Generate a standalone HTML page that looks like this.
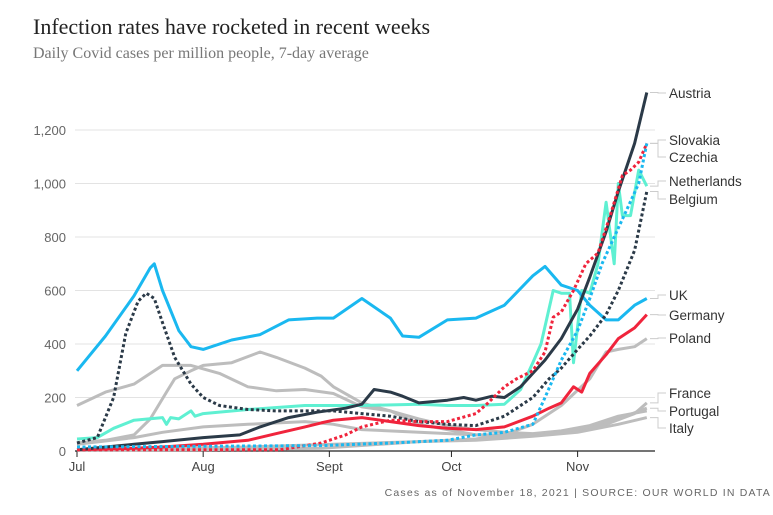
<!DOCTYPE html>
<html><head><meta charset="utf-8">
<style>
body{margin:0;background:#fff;width:773px;height:515px;overflow:hidden}
svg{display:block}
.t{font-family:"Liberation Serif",serif}
.s{font-family:"Liberation Sans",sans-serif}
</style></head>
<body>
<svg id="c" width="773" height="515">
<text class="t" x="33" y="34" font-size="22" fill="#222">Infection rates have rocketed in recent weeks</text>
<text class="t" x="33" y="58" font-size="16" fill="#777">Daily Covid cases per million people, 7-day average</text>
<text class="s" x="771" y="496" text-anchor="end" font-size="10.5" fill="#666" letter-spacing="1.2">Cases as of November 18, 2021 | SOURCE: OUR WORLD IN DATA</text>
<g id="grid"></g><g id="lines"></g><g id="labels"></g>
</svg>
<script>
const yTicks=[0,200,400,600,800,1000,1200];
const yTickLabels=["0","200","400","600","800","1,000","1,200"];
const xTickDays=[0,31,62,92,123];
const xTickLabels=["Jul","Aug","Sept","Oct","Nov"];

const g1Days=[0,7,14,21,28,35,42,49,56,63,70,77,84,91,98,105,112,119,126,133,140];
const g1Vals=[170,220,250,320,320,290,240,225,230,215,165,150,120,95,80,70,65,75,95,130,150];
const g2Days=[0,7,14,18,22,24,28,31,38,45,49,56,60,63,70,77,84,91,98,105,112,119,126,133,140];
const g2Vals=[30,40,60,120,220,270,300,320,330,370,350,310,280,240,180,150,100,80,60,55,60,70,90,120,160];
const g3Days=[0,14,21,31,42,56,63,70,84,98,112,123,130,137,140];
const g3Vals=[25,50,70,90,100,110,100,80,70,60,60,75,100,140,180];
const italyDays=[0,21,42,63,84,98,112,123,133,140];
const italyVals=[5,10,15,25,35,40,55,70,100,125];
const polandDays=[0,30,60,84,98,105,112,119,126,130,133,137,140];
const polandVals=[3,5,10,35,45,60,100,170,270,370,380,390,420];

const ukDays=[0,7,14,18,19,21,25,28,31,38,45,52,59,63,70,77,80,84,91,98,105,112,115,119,123,126,130,133,137,140];
const ukVals=[300,430,580,685,700,600,450,390,380,415,435,490,497,497,570,497,430,425,490,497,545,655,690,620,600,545,490,490,545,570];
const austriaDays=[0,14,21,31,40,45,52,59,66,70,73,77,80,84,91,95,98,102,105,109,112,115,119,123,126,130,133,137,140];
const austriaVals=[5,25,35,50,60,90,125,145,160,175,230,220,205,180,190,200,190,205,200,240,290,340,420,530,650,820,970,1150,1340];
const belgiumDays=[0,5,9,12,15,17,19,21,24,28,31,35,42,49,56,63,70,77,84,91,98,105,112,116,119,123,126,130,133,137,140];
const belgiumVals=[30,50,200,440,560,590,570,480,350,250,200,170,155,150,150,150,140,130,110,100,95,130,200,270,310,380,430,510,600,750,970];
const slovakiaDays=[0,50,60,66,70,77,84,91,98,101,105,108,112,115,117,119,122,125,128,131,134,136,138,140];
const slovakiaVals=[5,5,30,60,90,115,110,110,140,180,240,270,300,370,500,520,600,700,740,880,1030,1050,1080,1150];
const czechiaDays=[0,60,77,91,98,105,112,115,119,123,126,129,132,135,138,140];
const czechiaVals=[15,20,30,40,60,70,100,200,340,450,570,700,800,900,1000,1150];
const nethDays=[0,5,9,14,21,22,23,25,28,29,31,42,56,70,84,91,98,105,109,112,114,117,119,121,122,124,126,128,130,132,133,134,136,138,140];
const nethVals=[45,50,85,115,125,100,125,120,150,130,140,155,170,170,175,170,170,175,230,330,400,600,590,590,330,600,590,700,930,700,1000,880,880,1050,990];
const germanyDays=[0,14,21,31,42,49,56,60,63,70,77,84,91,98,105,112,116,119,122,124,126,130,133,137,140];
const germanyVals=[5,10,15,25,40,65,90,105,115,125,110,95,85,80,90,130,160,180,240,220,290,360,420,460,510];

const X=d=>77+d*4.07;
const Y=v=>451-v*0.2675;
const NS="http://www.w3.org/2000/svg";
const grid=document.getElementById('grid'),lines=document.getElementById('lines'),labs=document.getElementById('labels');
function mk(tag,attrs,parent){const e=document.createElementNS(NS,tag);for(const k in attrs)e.setAttribute(k,attrs[k]);parent.appendChild(e);return e;}

yTicks.forEach((v,i)=>{
  const l=mk('line',{x1:75,x2:655,y1:Y(v),y2:Y(v),stroke:v===0?'#222':'#e3e3e3','stroke-width':v===0?1.2:1},grid);
  
  
  const t=mk('text',{x:66,y:Y(v)+5,'text-anchor':'end','font-size':13,fill:'#666',class:'s'},grid);
  t.textContent=yTickLabels[i];
  
  
});
xTickDays.forEach((d,i)=>{
  const l=mk('line',{x1:X(d),x2:X(d),y1:451,y2:457,stroke:'#222'},grid);
  
  
  const t=mk('text',{x:X(d),y:471,'text-anchor':'middle','font-size':13,fill:'#444',class:'s'},grid);
  t.textContent=xTickLabels[i];
  
  
});

function line(days,vals,color,dash,name){
  const d=days.map((x,i)=>(i?'L':'M')+X(x).toFixed(1)+','+Y(vals[i]).toFixed(1)).join('');
  const p=mk('path',{d:d,fill:'none',stroke:color,'stroke-width':3,'stroke-linejoin':'round'},lines);
  if(dash)p.setAttribute('stroke-dasharray','3 2.5');
  
  
}
line(g1Days,g1Vals,'#bdbdbd',false,'line-france');
line(g2Days,g2Vals,'#bdbdbd',false,'line-portugal');
line(g3Days,g3Vals,'#bdbdbd',false,'line-gray-other');
line(italyDays,italyVals,'#bdbdbd',false,'line-italy');
line(polandDays,polandVals,'#bdbdbd',false,'line-poland');
line(nethDays,nethVals,'#5ff0d2',false,'line-netherlands');
line(germanyDays,germanyVals,'#f0243c',false,'line-germany');
line(ukDays,ukVals,'#1ab8f0',false,'line-uk');
line(austriaDays,austriaVals,'#2b3a48',false,'line-austria');
line(belgiumDays,belgiumVals,'#2b3a48',true,'line-belgium');
line(slovakiaDays,slovakiaVals,'#f0243c',true,'line-slovakia');
line(czechiaDays,czechiaVals,'#1ab8f0',true,'line-czechia');

const labelNames=["Austria","Slovakia","Czechia","Netherlands","Belgium","UK","Germany","Poland","France","Portugal","Italy"];
const labelY=[93,140,157,181,199,295,315,338,393,411,428];
const endVals=[1340,1150,1150,990,970,570,510,420,180,160,125];
labelNames.forEach((n,i)=>{
  const y0=Y(endVals[i]);
  const p=mk('path',{d:`M650,${y0}H658V${labelY[i]}H666`,fill:'none',stroke:'#ccc','stroke-width':1},labs);
  
  
  const t=mk('text',{x:669,y:labelY[i]+5,'font-size':13.5,fill:'#333',class:'s'},labs);
  t.textContent=n;
  
  
});
</script>
</body></html>
